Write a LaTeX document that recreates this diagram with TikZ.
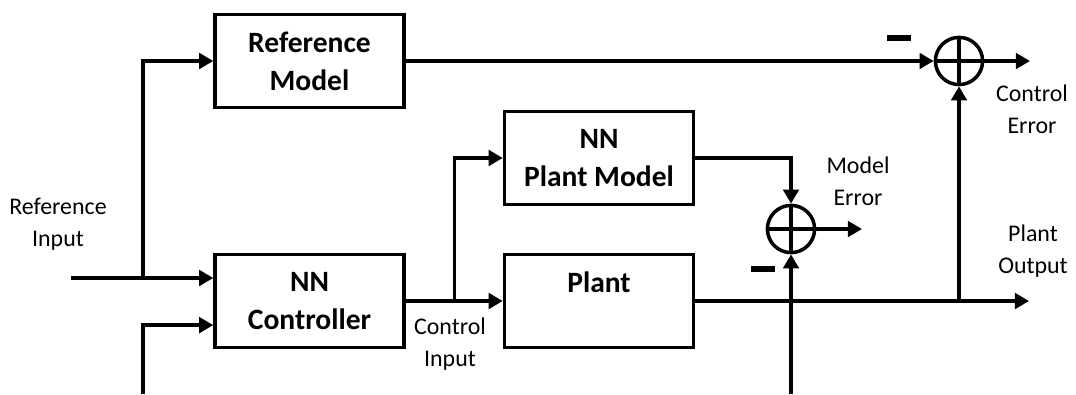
\documentclass[tikz,border=0pt]{standalone}
\usepackage{fontspec}
\setmainfont{Carlito}
\usepackage{tikz}
\usetikzlibrary{arrows.meta, positioning, calc}
\tikzset{
  block/.style={rectangle, draw, line width=2.6pt,
    minimum width=4.72cm, minimum height=2.32cm, align=center,
    font=\fontsize{21}{27}\selectfont\bfseries},
  sumnode/.style={circle, draw, line width=2.5pt, minimum size=1.18cm, inner sep=0pt,
    path picture={\draw[line width=2.5pt]
      (path picture bounding box.north) -- (path picture bounding box.south)
      (path picture bounding box.west) -- (path picture bounding box.east);}},
  arrow/.style={-{Triangle[length=10pt,width=11pt]}, line width=2.4pt},
  line/.style={line width=2.4pt},
  minus/.style={line width=4.5pt},
  lbl/.style={align=center, font=\fontsize{17}{23}\selectfont}
}

\begin{document}
\begin{tikzpicture}[x=0.025cm, y=-0.025cm]
    \useasboundingbox (0,0) rectangle (1076,394);

    % blocks
    \node[block] (refmodel) at (309.5,61) {Reference\\Model};
    \node[block] (ctrl) at (309.5,301) {NN\\Controller};
    \node[block] (plantmodel) at (599,158) {NN\\Plant Model};
    \node[block] (plant) at (599,301) {Plant\\\mbox{}};

    % summing junctions
    \node[sumnode] (sumctrl) at (959,61) {};
    \node[sumnode] (summodel) at (791,229) {};

    % free ends and branch points
    \coordinate (refin) at (71,278);
    \coordinate (split) at (143,278);
    \coordinate (fbin) at (143,394);
    \coordinate (cin) at ($(ctrl.east)!.5!(plant.west)$);
    \coordinate (errin) at (791,394);
    \coordinate (modelerr) at (862,229);
    \coordinate (ctrlerr) at (1030,61);
    \coordinate (plantout) at (1029,301);
    \coordinate (tap) at (sumctrl |- plant.east);

    % reference path
    \draw[arrow] (refin) -- (refin -| ctrl.west);
    \draw[arrow] (split) |- (refmodel.west);
    \draw[arrow] (fbin) |- ($(ctrl.west)!.5!(ctrl.south west)$);
    \draw[arrow] (refmodel.east) -- (sumctrl.west);
    \draw[arrow] (sumctrl.east) -- (ctrlerr);

    % control input
    \draw[arrow] (ctrl.east) -- (plant.west);
    \draw[arrow] (cin) |- (plantmodel.west);

    % model error
    \draw[arrow] (plantmodel.east) -| (summodel.north);
    \draw[arrow] (errin) -- (summodel.south);
    \draw[arrow] (summodel.east) -- (modelerr);

    % plant output
    \draw[arrow] (plant.east) -- (plantout);
    \draw[arrow] (tap) -- (sumctrl.south);

    % minus signs
    \draw[minus] (887,38) -- (911,38);
    \draw[minus] (751,269) -- (775,269);

    % labels
    \node[lbl] (lblrefin) at (58,224) {Reference\\Input};
    \node[lbl] (lblcin) at (450,344) {Control\\Input};
    \node[lbl] (lblmodelerr) at (858,181) {Model\\Error};
    \node[lbl] (lblctrlerr) at (1032,109) {Control\\Error};
    \node[lbl] (lblplantout) at (1033,251) {Plant\\Output};
\end{tikzpicture}
\end{document}
